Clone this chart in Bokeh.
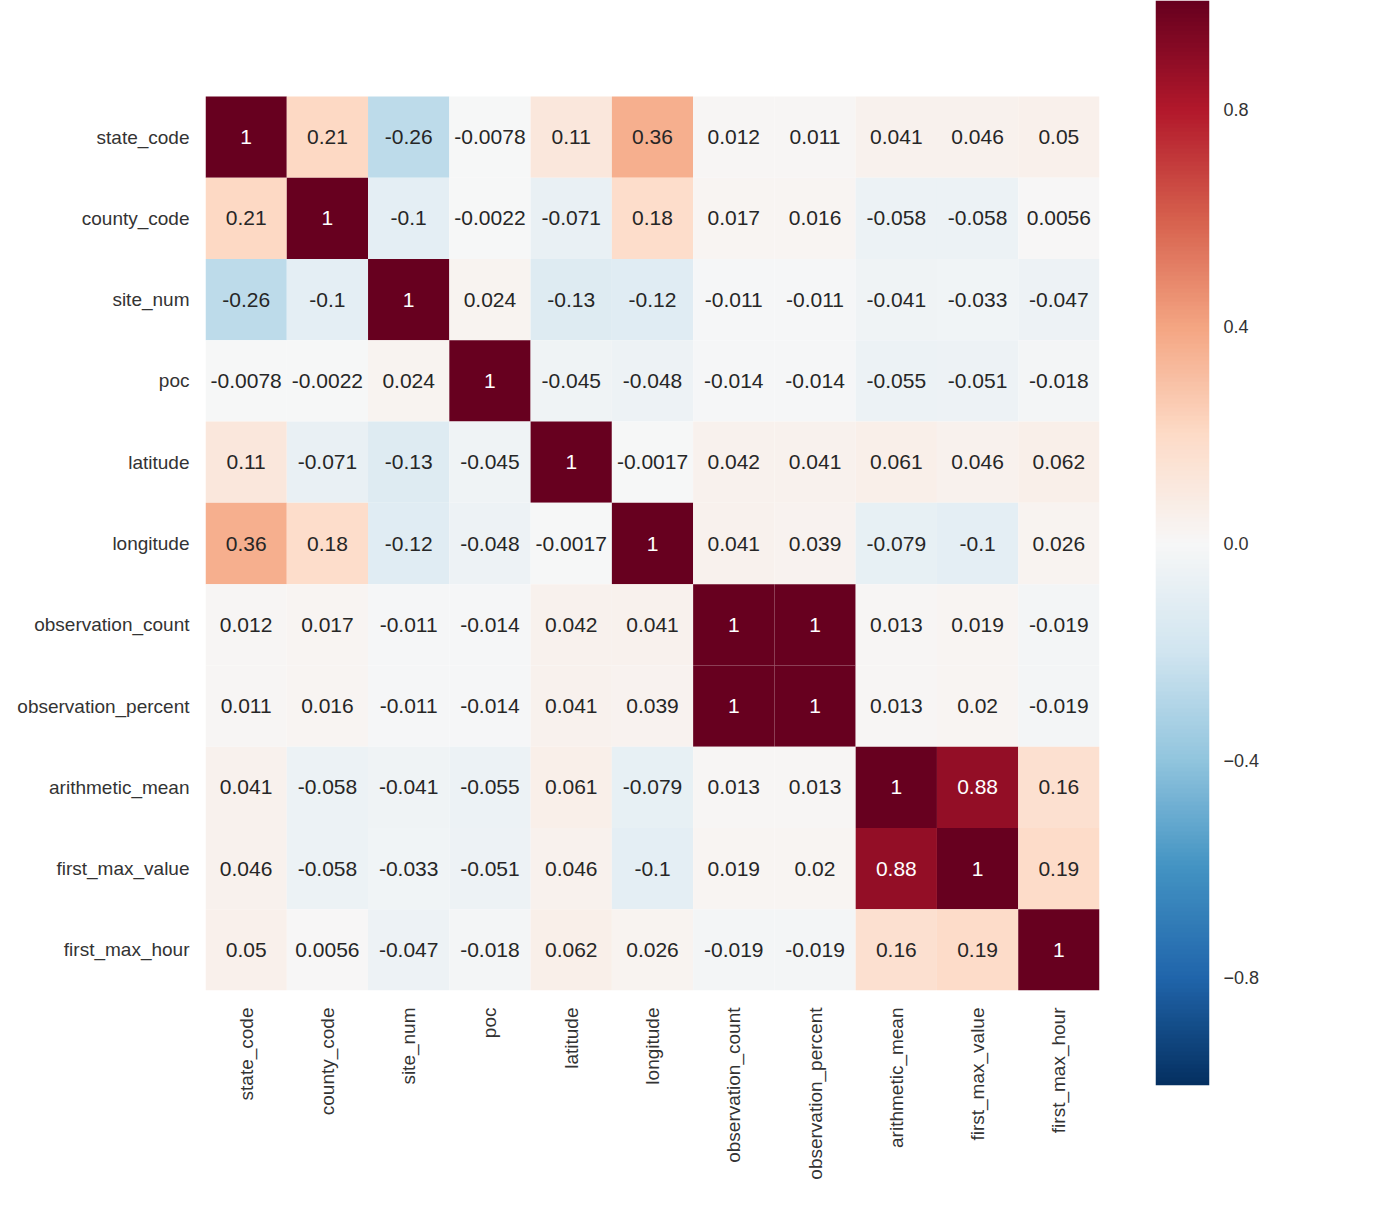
import numpy as np
from bokeh.plotting import figure
from bokeh.models import ColumnDataSource, LinearColorMapper, FixedTicker, Range1d, CustomJSTickFormatter
from bokeh.layouts import row
from bokeh.embed import file_html
from bokeh.resources import INLINE
from bokeh.core.properties import value

labels = ["state_code", "county_code", "site_num", "poc", "latitude", "longitude",
          "observation_count", "observation_percent", "arithmetic_mean",
          "first_max_value", "first_max_hour"]

state_code = [1, 0.21, -0.26, -0.0078, 0.11, 0.36, 0.012, 0.011, 0.041, 0.046, 0.05]
county_code = [0.21, 1, -0.1, -0.0022, -0.071, 0.18, 0.017, 0.016, -0.058, -0.058, 0.0056]
site_num = [-0.26, -0.1, 1, 0.024, -0.13, -0.12, -0.011, -0.011, -0.041, -0.033, -0.047]
poc = [-0.0078, -0.0022, 0.024, 1, -0.045, -0.048, -0.014, -0.014, -0.055, -0.051, -0.018]
latitude = [0.11, -0.071, -0.13, -0.045, 1, -0.0017, 0.042, 0.041, 0.061, 0.046, 0.062]
longitude = [0.36, 0.18, -0.12, -0.048, -0.0017, 1, 0.041, 0.039, -0.079, -0.1, 0.026]
observation_count = [0.012, 0.017, -0.011, -0.014, 0.042, 0.041, 1, 1, 0.013, 0.019, -0.019]
observation_percent = [0.011, 0.016, -0.011, -0.014, 0.041, 0.039, 1, 1, 0.013, 0.02, -0.019]
arithmetic_mean = [0.041, -0.058, -0.041, -0.055, 0.061, -0.079, 0.013, 0.013, 1, 0.88, 0.16]
first_max_value = [0.046, -0.058, -0.033, -0.051, 0.046, -0.1, 0.019, 0.02, 0.88, 1, 0.19]
first_max_hour = [0.05, 0.0056, -0.047, -0.018, 0.062, 0.026, -0.019, -0.019, 0.16, 0.19, 1]

rows = [state_code, county_code, site_num, poc, latitude, longitude,
        observation_count, observation_percent, arithmetic_mean,
        first_max_value, first_max_hour]

colorbar_ticks = [-0.8, -0.4, 0.0, 0.4, 0.8]

# RdBu_r built from the 11 ColorBrewer anchor colours (blue -> red)
anchors = ["#053061", "#2166ac", "#4393c3", "#92c5de", "#d1e5f0", "#f7f7f7",
           "#fddbc7", "#f4a582", "#d6604d", "#b2182b", "#67001f"]
arr = np.array([[int(c[i:i + 2], 16) for i in (1, 3, 5)] for c in anchors], dtype=float)
pos = np.linspace(0, 1, len(anchors))
t = np.linspace(0, 1, 256)
rgb = np.stack([np.interp(t, pos, arr[:, k]) for k in range(3)], axis=1)
palette = ["#%02x%02x%02x" % tuple(int(round(v)) for v in c) for c in rgb]

mapper = LinearColorMapper(palette=palette, low=-1, high=1)


def text_color(v):
    idx = int(np.clip((v + 1) / 2 * 255, 0, 255))
    c = rgb[idx] / 255.0
    lin = np.where(c <= 0.03928, c / 12.92, ((c + 0.055) / 1.055) ** 2.4)
    lum = 0.2126 * lin[0] + 0.7152 * lin[1] + 0.0722 * lin[2]
    return "#ffffff" if lum < 0.408 else "#262626"


n = len(labels)
xs, ys, vs, txt, tcs = [], [], [], [], []
for i, r in enumerate(rows):
    for j, v in enumerate(r):
        xs.append(labels[j])
        ys.append(n - 1 - i)
        vs.append(v)
        txt.append(format(v, ".2g"))
        tcs.append(text_color(v))

src = ColumnDataSource(dict(x=xs, y=ys, v=vs, txt=txt, tc=tcs))

FONT = "Liberation Sans"
CELL = 894 / n          # px per cell
TOP_GAP = 96            # px of white space above the heatmap

p = figure(x_range=labels,
           y_range=Range1d(-0.5, n - 0.5 + TOP_GAP / CELL),
           frame_width=894, frame_height=894 + TOP_GAP,
           min_border_left=205, min_border_top=0, min_border_bottom=224, min_border_right=56,
           output_backend="svg", toolbar_location=None, outline_line_color=None,
           background_fill_color="white", border_fill_color="white")
p.rect(x="x", y="y", width=1, height=1, source=src,
       fill_color={"field": "v", "transform": mapper}, line_color=None)
p.text(x="x", y="y", text="txt", source=src, text_align="center", text_baseline="middle",
       text_color="tc", text_font=value(FONT), text_font_size="21px")
p.grid.visible = False
p.yaxis.ticker = FixedTicker(ticks=list(range(n)))
p.yaxis.major_label_overrides = {k: labels[n - 1 - k] for k in range(n)}
for ax in (p.xaxis[0], p.yaxis[0]):
    ax.axis_line_color = None
    ax.major_tick_line_color = None
    ax.minor_tick_line_color = None
    ax.major_label_text_font = FONT
    ax.major_label_text_font_size = "19px"
    ax.major_label_text_color = "#333333"
p.xaxis.major_label_orientation = np.pi / 2
p.xaxis.major_label_standoff = 11
p.yaxis.major_label_standoff = 10

# colour bar
p2 = figure(x_range=Range1d(0, 1), y_range=Range1d(-1, 1),
            frame_width=54, frame_height=1085,
            min_border_left=0, min_border_top=0, min_border_bottom=129, min_border_right=119,
            x_axis_location=None, y_axis_location="right",
            output_backend="svg", toolbar_location=None, outline_line_color=None,
            background_fill_color="white", border_fill_color="white")
grad = np.linspace(-1, 1, 512).reshape(512, 1)
p2.image(image=[grad], x=0, y=-1, dw=1, dh=2, color_mapper=mapper)
p2.grid.visible = False
ay = p2.yaxis[0]
ay.ticker = FixedTicker(ticks=colorbar_ticks)
ay.formatter = CustomJSTickFormatter(code="return (tick < -1e-9 ? '\\u2212' : '') + Math.abs(tick).toFixed(1);")
ay.axis_line_color = None
ay.major_tick_line_color = None
ay.minor_tick_line_color = None
ay.major_label_text_font = FONT
ay.major_label_text_font_size = "18px"
ay.major_label_text_color = "#333333"
ay.major_label_standoff = 8

layout = row(p, p2, spacing=0)
open("out.html", "w").write(file_html(layout, INLINE))
